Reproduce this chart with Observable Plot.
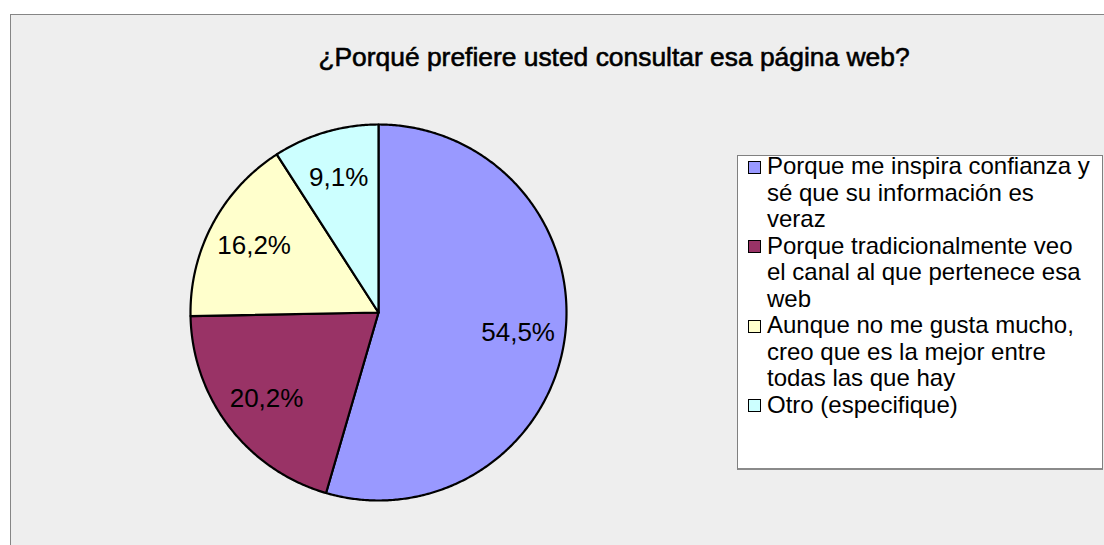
<!DOCTYPE html>
<html>
<head>
<meta charset="utf-8">
<script src="https://cdn.jsdelivr.net/npm/d3@7"></script>
<script src="https://cdn.jsdelivr.net/npm/@observablehq/plot@0.6"></script>
<style>
  html, body { margin: 0; padding: 0; background: #ffffff; }
  #wrap { position: relative; width: 1104px; height: 545px; overflow: hidden;
          font-family: Arial, "Liberation Sans", sans-serif; color: #000; }
  #frame { position: absolute; left: 10px; top: 14px; width: 1200px; height: 600px;
           background: #eeeeee; border: 1px solid #858585; }
  #title { position: absolute; left: 214px; width: 800px; top: 41.5px; line-height: 30px;
           text-align: center; font-size: 26.4px; font-weight: normal; white-space: nowrap;
           -webkit-text-stroke: 0.6px #000; }
  #chart { position: absolute; left: 0; top: 0; }
  #legend { position: absolute; left: 737px; top: 155px; width: 366px; height: 315px;
            box-sizing: border-box; background: #ffffff; border: 1px solid #808080;
            border-bottom: 2px solid #8a8a8a; }
  #items { position: absolute; left: 748px; top: 153px; }
  .item { display: flex; align-items: flex-start; }
  .sw { width: 11px; height: 11px; border: 1.5px solid #000; margin-top: 7.5px; flex: none; }
  .lt { margin-left: 6px; width: 327px; font-size: 24px; line-height: 26.5px; }
</style>
</head>
<body>
<div id="wrap">
  <div id="frame"></div>
  <div id="title"></div>
  <div id="chart"></div>
  <div id="legend"></div>
  <div id="items"></div>
</div>
<script>
// ---- data ----
const titleText = "¿Porqué prefiere usted consultar esa página web?";
const categories = [
  "Porque me inspira confianza y sé que su información es veraz",
  "Porque tradicionalmente veo el canal al que pertenece esa web",
  "Aunque no me gusta mucho, creo que es la mejor entre todas las que hay",
  "Otro (especifique)"
];
const values = [54.5, 20.2, 16.2, 9.1];
const palette = ["#9999FF", "#993366", "#FFFFCC", "#CCFFFF"];

// ---- build ----
document.getElementById("title").textContent = titleText;

const table = categories.map((c, i) => ({category: c, value: values[i]}));
const arcs = d3.pie().sort(null).value(d => d.value)(table);
const fmt = v => v.toFixed(1).replace(".", ",") + "%";

const outline = [];
for (const a of arcs) {
  outline.push({category: a.data.category, px: 0, py: 0});
  const n = Math.max(2, Math.ceil((a.endAngle - a.startAngle) / (Math.PI / 360)));
  for (let k = 0; k <= n; k++) {
    const t = a.startAngle + (a.endAngle - a.startAngle) * k / n;
    outline.push({category: a.data.category, px: Math.sin(t), py: Math.cos(t)});
  }
}
const labelR = 0.75;
const labelData = arcs.map(a => {
  const m = (a.startAngle + a.endAngle) / 2;
  return {px: labelR * Math.sin(m), py: labelR * Math.cos(m), text: fmt(a.data.value)};
});

const cx = 378, cy = 312, r = 188;
const chart = Plot.plot({
  width: 1104,
  height: 545,
  margin: 0,
  style: {background: "transparent", overflow: "visible"},
  x: {domain: [-1, 1], range: [cx - r, cx + r], axis: null},
  y: {domain: [-1, 1], range: [cy + r, cy - r], axis: null},
  color: {domain: categories, range: palette},
  marks: [
    Plot.line(outline, {x: "px", y: "py", z: "category", fill: "category",
      stroke: "#000", strokeWidth: 2.2, curve: "linear-closed", strokeLinejoin: "round"}),
    Plot.text(labelData, {x: "px", y: "py", text: "text", fontSize: 26,
      fill: "#000", fontFamily: "Arial, 'Liberation Sans', sans-serif"})
  ]
});
document.getElementById("chart").appendChild(chart);

const items = document.getElementById("items");
categories.forEach((c, i) => {
  const row = document.createElement("div");
  row.className = "item";
  const sw = document.createElement("div");
  sw.className = "sw";
  sw.style.background = palette[i];
  const t = document.createElement("div");
  t.className = "lt";
  t.textContent = c;
  row.appendChild(sw);
  row.appendChild(t);
  items.appendChild(row);
});
</script>
</body>
</html>
